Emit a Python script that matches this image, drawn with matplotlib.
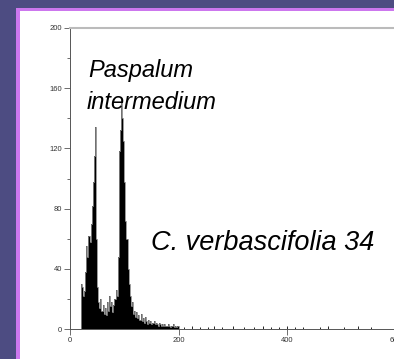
import numpy as np
import matplotlib.pyplot as plt
from matplotlib.patches import Rectangle

# channel (left edge of 2-unit bins) and counts
channels = np.arange(20, 200, 2)
counts = [30, 28, 22, 25, 38, 55, 48, 62, 58, 70,
          82, 98, 115, 134, 60, 28, 18, 14, 20, 12,
          16, 10, 14, 9, 18, 12, 22, 15, 18, 11,
          16, 20, 26, 22, 48, 118, 132, 151, 140, 125,
          98, 72, 60, 40, 30, 22, 15, 18, 10, 12,
          8, 11, 7, 9, 6, 10, 5, 7, 4, 8,
          5, 3, 6, 4, 5, 3, 4, 5, 3, 4,
          3, 2, 4, 3, 2, 3, 2, 3, 2, 2,
          3, 2, 1, 2, 2, 3, 1, 2, 1, 2]

# sparse events in the tail
tail_x = [210, 225, 240, 255, 265, 280, 300, 320, 340, 355,
          370, 385, 400, 415, 430, 460, 475, 505, 530, 555]
tail_y = [1, 2, 1, 1, 2, 1, 2, 1, 1, 2, 1, 1, 2, 1, 1, 1, 2, 1, 2, 1]

plt.rcParams['font.family'] = ['Liberation Sans', 'DejaVu Sans']

fig = plt.figure(figsize=(3.94, 3.59), dpi=100, facecolor='#4d4c82')
W, H = 394, 359
# slide frame: pink strip and white panel
fig.patches.append(Rectangle((16 / W, 0), 1, 1 - 8 / H, transform=fig.transFigure,
                             facecolor='#cc77ee', edgecolor='none', zorder=-2))
fig.patches.append(Rectangle((20 / W, 0), 1, 1 - 11 / H, transform=fig.transFigure,
                             facecolor='white', edgecolor='none', zorder=-1))

ax = fig.add_axes([70 / W, 30 / H, 325.5 / W, 301 / H])
ax.set_facecolor('none')
ax.set_zorder(1)

edges = np.append(channels, channels[-1] + 2)
ax.stairs(counts, edges, fill=True, color='black', zorder=2)
ax.stairs(counts, edges, color='#888888', linewidth=0.6, zorder=3)
ax.vlines(tail_x, 0, tail_y, color='black', linewidth=0.6)

ax.set_xlim(0, 600)
ax.set_ylim(0, 200)
ax.set_xticks([0, 200, 400, 600])
ax.set_yticks([0, 40, 80, 120, 160, 200])
ax.set_yticks([20, 60, 100, 140, 180], minor=True)
ax.tick_params(labelsize=5.5, colors='#555555', labelcolor='#333333', length=4, width=0.6, pad=1.5)
ax.tick_params(which='minor', length=2.5, width=0.6, colors='#555555')

ax.spines['right'].set_visible(False)
ax.spines['top'].set_color('#bbbbbb')
ax.spines['top'].set_linewidth(1.5)
ax.spines['left'].set_color('#555555')
ax.spines['left'].set_linewidth(0.7)
ax.spines['bottom'].set_color('#555555')
ax.spines['bottom'].set_linewidth(0.7)

fig.text(88 / W, 1 - 77 / H, 'Paspalum', fontsize=17, style='italic', va='baseline', zorder=5)
fig.text(87 / W, 1 - 109 / H, 'intermedium', fontsize=17, style='italic', va='baseline', zorder=5)
fig.text(151 / W, 1 - 250 / H, 'C. verbascifolia 34', fontsize=19.5, style='italic',
         va='baseline', zorder=5)

fig.savefig('out.png', dpi=100, facecolor=fig.get_facecolor())
